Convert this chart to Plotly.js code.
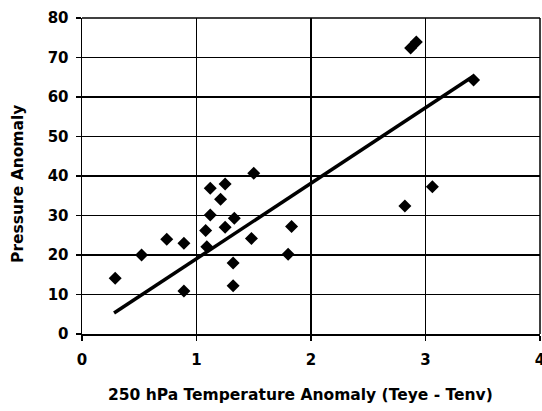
<!DOCTYPE html>
<html>
<head>
<meta charset="utf-8">
<script src="https://cdn.plot.ly/plotly-3.0.1.min.js"></script>
<style>html,body{margin:0;padding:0;background:#fff;}#chart{width:542px;height:411px;}</style>
</head>
<body>
<div id="chart"></div>
<script>
var tempAnomaly = [0.29, 0.52, 0.74, 0.89, 0.89, 1.08, 1.09, 1.12, 1.12, 1.25, 1.21, 1.25, 1.33, 1.32, 1.32, 1.50, 1.48, 1.83, 1.80, 2.82, 3.06, 2.87, 2.92, 3.42];
var pressureAnomaly = [14.1, 20.0, 24.0, 23.0, 10.9, 26.2, 22.1, 30.1, 36.9, 38.0, 34.1, 27.0, 29.3, 18.0, 12.2, 40.7, 24.2, 27.2, 20.2, 32.4, 37.3, 72.4, 73.9, 64.3];
var trendX = [0.28, 3.42];
var trendY = [5.3, 65.3];
var xTicks = [0, 1, 2, 3, 4];
var yTicks = [0, 10, 20, 30, 40, 50, 60, 70, 80];
var xTitle = '250 hPa Temperature Anomaly (Teye - Tenv)';
var yTitle = 'Pressure Anomaly';

var fam = '"DejaVu Sans", "Liberation Sans", Arial, sans-serif';

var traces = [
  {x: trendX, y: trendY, mode: 'lines', type: 'scatter',
   line: {color: '#000', width: 3.5}, hoverinfo: 'skip'},
  {x: tempAnomaly, y: pressureAnomaly, mode: 'markers', type: 'scatter',
   marker: {symbol: 'diamond', size: 10, color: '#000', line: {width: 0}}}
];

var layout = {
  width: 542, height: 411,
  margin: {l: 82, r: 2, t: 18, b: 77},
  paper_bgcolor: '#fff', plot_bgcolor: '#fff',
  showlegend: false,
  font: {family: fam, color: '#000'},
  xaxis: {
    range: [0, 4], tickvals: xTicks, ticktext: xTicks.map(String),
    showgrid: true, gridcolor: '#000', gridwidth: 1.3,
    zeroline: false, showline: true, linecolor: '#000', linewidth: 1.5,
    ticks: 'outside', ticklen: 5, tickcolor: '#000', tickwidth: 1.3,
    ticklabeloverflow: 'allow', ticklabelstandoff: 6,
    tickfont: {family: fam, size: 15, color: '#000', weight: 'bold'},
    fixedrange: true
  },
  yaxis: {
    range: [0, 80], tickvals: yTicks, ticktext: yTicks.map(String),
    showgrid: true, gridcolor: '#000', gridwidth: 1.3,
    zeroline: false, showline: true, linecolor: '#000', linewidth: 1.5,
    ticks: 'outside', ticklen: 5, tickcolor: '#000', tickwidth: 1.3,
    ticklabelstandoff: 4,
    tickfont: {family: fam, size: 15, color: '#000', weight: 'bold'},
    fixedrange: true
  },
  annotations: [
    {text: '<b>' + xTitle + '</b>', xref: 'paper', yref: 'paper', x: 0.476, y: -0.193,
     xanchor: 'center', yanchor: 'middle', showarrow: false,
     font: {family: fam, size: 15.5, color: '#000'}},
    {text: '<b>' + yTitle + '</b>', xref: 'paper', yref: 'paper', x: -0.1397, y: 0.475,
     xanchor: 'center', yanchor: 'middle', showarrow: false, textangle: -90,
     font: {family: fam, size: 15.5, color: '#000'}}
  ],
  shapes: [
    {type: 'line', xref: 'paper', yref: 'paper', x0: 1, x1: 1, y0: 0, y1: 1, line: {color: '#000', width: 1.5}},
    {type: 'line', xref: 'paper', yref: 'paper', x0: 0, x1: 1, y0: 1, y1: 1, line: {color: '#000', width: 1.5}}
  ]
};

Plotly.newPlot('chart', traces, layout, {displayModeBar: false, staticPlot: true});
</script>
</body>
</html>
